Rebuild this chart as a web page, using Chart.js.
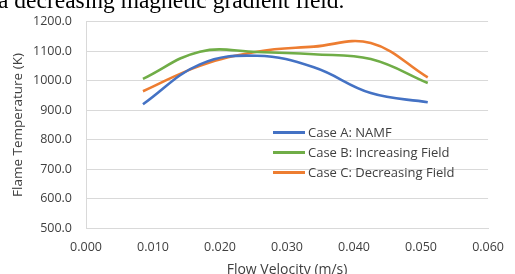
<!DOCTYPE html>
<html>
<head>
<meta charset="utf-8">
<script src="https://cdn.jsdelivr.net/npm/chart.js"></script>
<style>
  html, body { margin: 0; padding: 0; background: #fff; overflow: hidden; }
  #wrap { position: relative; width: 515px; height: 274px; }
  #caption {
    position: absolute; left: -2px; top: -11px;
    font-family: "Liberation Serif", serif; font-size: 23.5px; line-height: 1;
    color: #000; white-space: nowrap;
  }
  canvas { position: absolute; left: 0; top: 0; }
</style>
</head>
<body>
<div id="wrap">
  <canvas id="flameChart" width="515" height="274"></canvas>
  <div id="caption">a decreasing magnetic gradient field.</div>
</div>
<script>
// Flow velocity (m/s) and flame temperature (K)
const velocity = [0.0085, 0.017, 0.0255, 0.034, 0.0425, 0.051];
const caseA = [920, 1055, 1084, 1045, 958, 927];
const caseB = [1006, 1098, 1097, 1089, 1073, 992];
const caseC = [964, 1050, 1098, 1115, 1127, 1011];
const seriesLabels = ['Case A: NAMF', 'Case B: Increasing Field', 'Case C: Decreasing Field'];
const seriesColors = ['#4472C4', '#70AD47', '#ED7D31'];

const textColor = '#404040';
const gridColor = '#d9d9d9';

const toPoints = (ys) => velocity.map((x, i) => ({ x: x, y: ys[i] }));

// Legend sitting inside the plot area, Excel style
const insideLegend = {
    id: 'insideLegend',
    afterDatasetsDraw(chart) {
        const ctx = chart.ctx;
        const area = chart.chartArea;
        const x0 = area.left + 187;
        const y0 = area.top + 111;
        ctx.save();
        ctx.font = '13px "Open Sans"';
        ctx.textBaseline = 'middle';
        chart.data.datasets.forEach((ds, i) => {
            const y = y0 + i * 20;
            ctx.strokeStyle = ds.borderColor;
            ctx.lineWidth = 3;
            ctx.beginPath();
            ctx.moveTo(x0, y);
            ctx.lineTo(x0 + 32, y);
            ctx.stroke();
            ctx.fillStyle = textColor;
            ctx.fillText(ds.label, x0 + 35, y + 0.5);
        });
        ctx.restore();
    }
};

new Chart(document.getElementById('flameChart'), {
    type: 'line',
    data: {
        datasets: [
            { label: seriesLabels[0], data: toPoints(caseA), borderColor: seriesColors[0] },
            { label: seriesLabels[1], data: toPoints(caseB), borderColor: seriesColors[1] },
            { label: seriesLabels[2], data: toPoints(caseC), borderColor: seriesColors[2] }
        ].map(ds => Object.assign(ds, {
            borderWidth: 2.6,
            tension: 0.4,
            pointRadius: 0,
            fill: false
        }))
    },
    options: {
        responsive: false,
        animation: false,
        layout: { padding: { top: 20, right: 17, left: 0, bottom: 0 } },
        plugins: {
            legend: { display: false },
            tooltip: { enabled: false }
        },
        scales: {
            x: {
                type: 'linear',
                min: 0,
                max: 0.06,
                afterFit: (scale) => { scale.height = 45.5; },
                ticks: {
                    stepSize: 0.01,
                    padding: 11,
                    color: textColor,
                    font: { family: 'Open Sans', size: 12.5 },
                    callback: (v) => v.toFixed(3)
                },
                grid: { display: false, drawTicks: false },
                border: { display: true, color: gridColor },
                title: {
                    display: true,
                    text: 'Flow Velocity (m/s)',
                    color: textColor,
                    font: { family: 'Open Sans', size: 14 },
                    padding: { top: 0, bottom: -4.4 }
                }
            },
            y: {
                min: 500,
                max: 1200,
                afterFit: (scale) => { scale.width = 86; },
                ticks: {
                    stepSize: 100,
                    padding: 14,
                    color: textColor,
                    font: { family: 'Open Sans', size: 12.5 },
                    callback: (v) => v.toFixed(1)
                },
                grid: { color: gridColor, drawTicks: false },
                border: { display: true, color: gridColor },
                title: {
                    display: true,
                    text: 'Flame Temperature (K)',
                    color: textColor,
                    font: { family: 'Open Sans', size: 13.5 },
                    padding: { top: 10, bottom: 0 }
                }
            }
        }
    },
    plugins: [insideLegend]
});
</script>
</body>
</html>
